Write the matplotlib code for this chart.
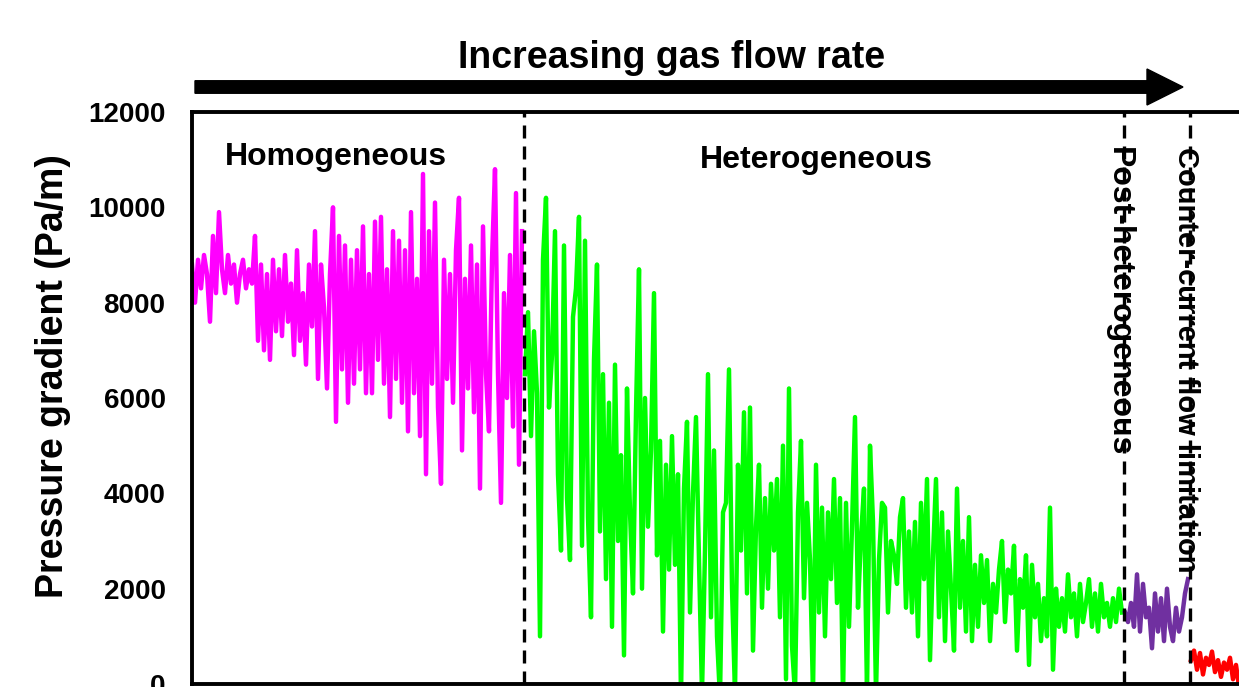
import matplotlib
matplotlib.use("Agg")
import matplotlib.pyplot as plt
import numpy as np
from matplotlib.patches import FancyArrow

plt.rcParams['font.family'] = ['Liberation Sans', 'DejaVu Sans']

# pressure gradient readings (Pa/m), one list per flow regime, in time order
homogeneous = [
    8800, 8000, 8900, 8300, 9000, 8600, 7600, 9400, 8200, 9900,
    8700, 8200, 9000, 8400, 8800, 8000, 8600, 8900, 8300, 8700,
    8400, 9400, 7200, 8800, 7000, 8600, 6800, 8900, 7400, 8700,
    7300, 9000, 7600, 8400, 6900, 9100, 7200, 8200, 6700, 8800,
    7500, 9500, 6400, 8800, 7900, 6200, 8600, 10000, 5500, 9400,
    6600, 9200, 5900, 8900, 6300, 9100, 6600, 9600, 6100, 8600,
    6100, 9700, 6800, 9800, 6300, 8700, 5600, 9500, 6400, 9300,
    5900, 9100, 5300, 9900, 6100, 8500, 5200, 10700, 4400, 9500,
    6300, 10100, 5800, 4200, 8900, 6400, 8600, 5900, 9100, 10200,
    4900, 8500, 6200, 9200, 5700, 8800, 4100, 9600, 6500, 5300,
    8900, 10800, 6500, 3800, 8200, 6000, 9000, 5400, 10300, 4600, 9500,
]
heterogeneous = [
    6500, 7800, 5200, 7400, 6100, 1000, 8900, 10200, 5800, 6900,
    9500, 4400, 2800, 9200, 3900, 2600, 7700, 8300, 9800, 2900,
    9300, 3500, 1400, 6800, 8800, 3200, 6500, 2200, 5900, 1200,
    6700, 3000, 4800, 600, 6200, 3600, 1900, 5700, 8700, 2000,
    6000, 3300, 4900, 8200, 2700, 5100, 1100, 4600, 2400, 5200,
    2500, 4400, -300, 4100, 5500, 1500, 4000, 5600, 2600, -200,
    2800, 6500, 1400, 4900, 1000, -300, 3600, 3800, 6600, 2000,
    -200, 4600, 2800, 5700, 1900, 5800, 700, 3300, 4600, 1600,
    3900, 2000, 4200, 2800, 4300, 1400, 5000, 100, 6200, 800,
    -200, 3600, 5100, 1800, 3800, 2600, -200, 4600, 1500, 3700,
    1000, 3600, 2200, 4300, 1700, 3900, -300, 3800, 1200, 3300,
    5600, 1600, 3100, 4100, -200, 5000, 3400, -200, 2600, 3800,
    3700, 1500, 3000, 2700, 2100, 3500, 3900, 1600, 3200, 1500,
    3400, 1000, 3800, 2200, 4300, 500, 2700, 4300, 1400, 3600,
    900, 3200, 2000, 700, 4100, 1600, 3000, 1100, 3500, 900,
    2500, 1200, 2700, 1700, 2600, 900, 2100, 1500, 2400, 3000,
    1300, 2400, 1900, 2900, 700, 2200, 1600, 2700, 400, 2500,
    1400, 2100, 900, 1800, 1000, 3700, 300, 2000, 1200, 1800,
    1100, 2300, 1400, 1900, 1000, 2100, 1300, 1700, 2200, 1200,
    1900, 1100, 2100, 1400, 1700, 1200, 1800, 1300, 2000, 1500,
]
post_heterogeneous = [
    1500, 1300, 1700, 1200, 2300, 1100, 2100, 1400, 1600, 750, 1900,
    1100, 1800, 900, 2000, 1200, 900, 1600, 1100, 1400, 1900, 2200,
]
ccfl = [
    500, 700, 300, 650, 200, 550, 400, 680, 250, 500,
    150, 450, 300, 550, 100, 400, -50, 300, 200, 450,
]

regimes = [
    ("Homogeneous", homogeneous, "#FF00FF"),
    ("Heterogeneous", heterogeneous, "#00FF00"),
    ("Post-heterogeneous", post_heterogeneous, "#7030A0"),
    ("Counter-current flow limitation", ccfl, "#FF0000"),
]

y_ticks = [0, 2000, 4000, 6000, 8000, 10000, 12000]


def main():
    fig = plt.figure(figsize=(12.39, 6.87), dpi=100)
    ax = fig.add_axes([192 / 1239, 3 / 687, 1200 / 1239, 572 / 687])

    start = 0
    bounds = []
    for name, values, color in regimes:
        idx = np.arange(start, start + len(values))
        ax.plot(idx, values, color=color, lw=3.2, zorder=2)
        start += len(values)
        bounds.append(start - 0.5)

    # dashed regime boundaries
    for b in bounds[:-1]:
        ax.axvline(b, color="black", lw=2.4, dashes=(3.9, 2.4), zorder=3)

    ax.set_xlim(0, 400)
    ax.set_ylim(0, 12000)
    ax.set_yticks(y_ticks)
    ax.set_yticklabels([str(t) for t in y_ticks], fontsize=20, fontweight="bold")
    ax.tick_params(axis="y", length=0, pad=19)
    ax.set_xticks([])
    for s in ["left", "top", "bottom"]:
        ax.spines[s].set_linewidth(2.8)
    ax.spines["right"].set_visible(False)
    ax.set_ylabel("Pressure gradient (Pa/m)", fontsize=27, fontweight="bold")
    ax.yaxis.set_label_coords(-0.101, 0.538)

    ax.text(48, 11050, "Homogeneous", fontsize=23, fontweight="bold", ha="center", va="center")
    ax.text(208, 10990, "Heterogeneous", fontsize=23, fontweight="bold", ha="center", va="center")
    ax.text(309, 11270, "Post-heterogeneous", fontsize=23, fontweight="bold",
            rotation=-90, ha="center", va="top")
    ax.text(331.3, 11270, "Counter-current flow limitation", fontsize=21, fontweight="bold",
            rotation=-90, ha="center", va="top")

    # arrow above the chart
    fig.add_artist(FancyArrow(195 / 1239, 1 - 87 / 687, (1183 - 195) / 1239, 0,
                              width=12.5 / 687, head_width=36 / 687, head_length=36 / 1239,
                              length_includes_head=True, color="black",
                              transform=fig.transFigure))
    fig.text(672 / 1239, 1 - 68 / 687, "Increasing gas flow rate", fontsize=27,
             fontweight="bold", ha="center", va="baseline")

    fig.savefig("out.png", dpi=100)


if __name__ == "__main__":
    main()
